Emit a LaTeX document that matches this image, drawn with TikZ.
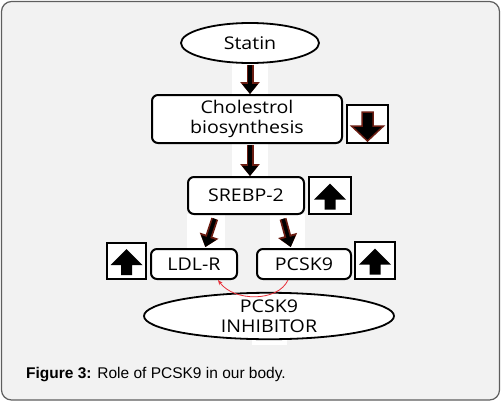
\documentclass[tikz,border=0pt]{standalone}
\usepackage{fontspec}
\newfontfamily\diagfont[FakeStretch=1.12]{Open Sans}
\newfontfamily\capfont{Liberation Sans}
\usetikzlibrary{shapes.geometric,arrows.meta}

\definecolor{framebg}{HTML}{F2F2F2}
\definecolor{frameline}{HTML}{5E5E5E}
\definecolor{arrowred}{HTML}{6B1D12}
\definecolor{linkred}{HTML}{E8303A}

\tikzset{
  box/.style={draw, line width=2pt, rounded corners=6pt, fill=white, align=center,
    inner sep=0pt, font=\diagfont\fontsize{17.5}{20}\selectfont},
  oval/.style={draw, ellipse, line width=1.8pt, fill=white, align=center,
    inner sep=0pt, font=\diagfont\fontsize{17.5}{20}\selectfont},
  iconbox/.style={draw, line width=1.8pt, fill=white, inner sep=0pt,
    minimum width=40pt, minimum height=37pt},
  fat/.style={line width=3.5pt, -{Triangle[length=10pt,width=15pt]},
    preaction={draw=arrowred, line width=7pt, -{Triangle[length=12pt,width=19pt]}}},
  pics/uparr/.style={code={
    \fill (-5.5,14) -- (-5.5,4) -- (-16,4) -- (0,-12) -- (16,4) -- (5.5,4) -- (5.5,14) -- cycle;}},
  pics/downarr/.style={code={
    \filldraw[fill=black, draw=arrowred, line width=1.5pt]
      (-5.5,-12) -- (-5.5,2) -- (-16,2) -- (0,17) -- (16,2) -- (5.5,2) -- (5.5,-12) -- cycle;}}
}

\begin{document}
\begin{tikzpicture}[x=1pt,y=-1pt]
  \useasboundingbox (0,0) rectangle (501,402);
  % frame
  \draw[frameline, fill=framebg, line width=1.2pt, rounded corners=10pt] (1.5,1.5) rectangle (499.5,400);
  % white strips behind the arrows
  \fill[white] (232,62) rectangle (268,95);
  \fill[white] (232,143) rectangle (268,177);
  \fill[white] (187,214) rectangle (225,249);
  \fill[white] (270,214) rectangle (305,249);
  \fill[white] (252,338) rectangle (287,345);

  \node[oval, minimum width=138pt, minimum height=40pt] (statin) at (250,43) {Statin};
  \node[box, minimum width=190pt, minimum height=48pt] (chol) at (247,119) {Cholestrol\\biosynthesis};
  \node[box, minimum width=116pt, minimum height=37pt] (srebp) at (246,195.5) {SREBP-2};
  \node[box, minimum width=86pt, minimum height=30pt] (ldlr) at (194,264) {LDL-R};
  \node[box, minimum width=94pt, minimum height=30pt] (pcsk) at (304,264) {PCSK9};
  \node[oval, minimum width=250pt, minimum height=44pt] (inhib) at (269,316) {PCSK9\\INHIBITOR};

  % up / down icons
  \node[iconbox, minimum width=41pt, minimum height=38pt] (cholicon) at (367.5,124) {};
  \node[iconbox, minimum width=42pt] (srebpicon) at (330,195.5) {};
  \node[iconbox, minimum width=39pt, minimum height=36pt] (ldlricon) at (126.5,261) {};
  \node[iconbox] (pcskicon) at (375,260.5) {};
  \pic at (cholicon) {downarr};
  \pic at (srebpicon) {uparr};
  \pic at (ldlricon) {uparr};
  \pic at (pcskicon) {uparr};

  % arrows
  \draw[fat, shorten <=1pt] (statin.south) -- (statin.south |- chol.north);
  \draw[fat, shorten <=1pt] (statin |- chol.south) -- (statin |- srebp.north);
  \draw[fat, shorten <=4pt, shorten >=1pt] ([xshift=-30pt]srebp.south) -- ([xshift=11pt]ldlr.north);
  \draw[fat, shorten <=4pt, shorten >=1pt] ([xshift=36pt]srebp.south) -- ([xshift=-13pt]pcsk.north);
  \draw[linkred, line width=0.8pt, -{Stealth[length=5pt,width=4pt]}]
    ([xshift=-16pt]pcsk.south) .. controls +(-10,22) and +(16,22) .. ([xshift=24pt]ldlr.south);

  \node[anchor=base west, inner sep=0pt, font=\capfont\fontsize{15.5}{18}\selectfont] (caption) at (26,378)
    {\textbf{Figure 3:} Role of PCSK9 in our body.};
\end{tikzpicture}
\end{document}
